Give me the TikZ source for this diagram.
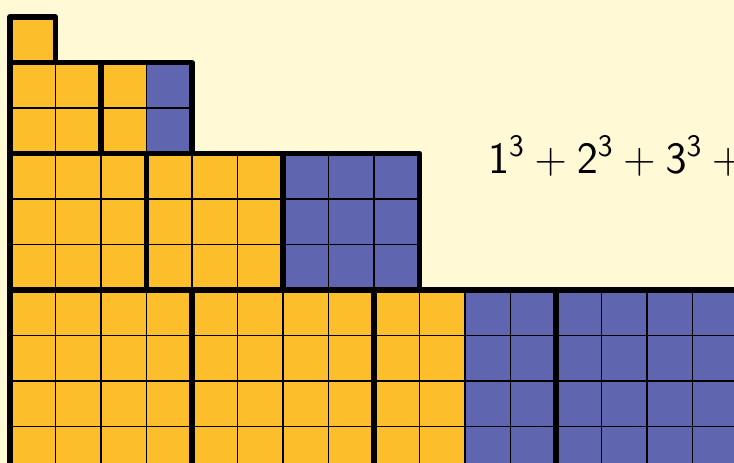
\RequirePackage{fix-cm}
\documentclass[tikz,border=0pt]{standalone}
\usepackage{amsmath}
\usepackage{tikz}
\usepackage{xcolor}
\definecolor{cubeorange}{RGB}{253,190,44}
\definecolor{cubeblue}{RGB}{95,101,175}
\definecolor{paleyellow}{RGB}{255,249,214}

\begin{document}
\begin{tikzpicture}[
    gridline/.style={black, line width=1.1pt},
    blockline/.style={black, line width=3.4pt, line join=round}]
    \clip (-0.22,0.374) rectangle (15.91,-9.80);
    \fill[paleyellow] (-0.22,0.374) rectangle (15.91,-9.80);
    % row n: n blocks of n x n, orange part is the triangular number
    \foreach \n/\t/\o in {1/0/1, 2/-1/3, 3/-3/6, 4/-6/10} {
        \fill[cubeorange] (0,\t) rectangle (\o,\t-\n);
        \fill[cubeblue] (\o,\t) rectangle (\n*\n,\t-\n);
        \draw[gridline] (0,\t) grid (\n*\n,\t-\n);
        \foreach \k in {1,...,\n}
            \draw[blockline] ({(\k-1)*\n},\t) rectangle ({\k*\n},\t-\n);
    }
    \node (sumtext) [anchor=base west, inner sep=0pt, font=\fontsize{28}{33}\selectfont] at (10.5,-3.43)
        {$\mathsf{1}^{\mathsf{3}} + \mathsf{2}^{\mathsf{3}} + \mathsf{3}^{\mathsf{3}} + {}$};
\end{tikzpicture}
\end{document}
